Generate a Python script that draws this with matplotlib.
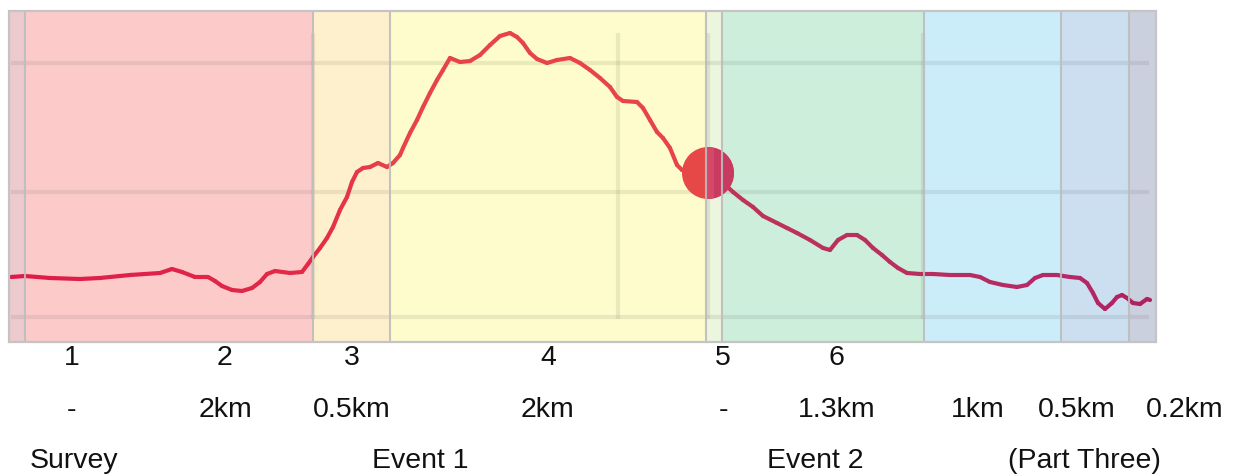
import numpy as np
import matplotlib
matplotlib.use("Agg")
import matplotlib.pyplot as plt
from matplotlib.collections import LineCollection
from matplotlib.patches import Rectangle, Circle
from matplotlib.colors import to_rgb

plt.rcParams['font.family'] = ['Liberation Sans', 'DejaVu Sans']

# ---------------- data ----------------
dist = [2, 16, 41, 71, 91, 121, 151, 163, 173, 186, 199, 206, 213, 223, 233, 243, 251, 258, 266,
        281, 293, 299, 304, 311, 318, 324, 331, 338, 343, 348, 354, 361, 369, 378, 384, 391, 394,
        401, 408, 414, 421, 428, 434, 441, 451, 461, 471, 481, 491, 501, 508, 514, 521, 528, 538,
        548, 561, 571, 581, 591, 601, 608, 614, 628, 634, 641, 648, 654, 661, 668, 673, 686, 699,
        711, 724, 734, 744, 754, 768, 778, 788, 801, 814, 821, 829, 838, 848, 856, 864, 873, 881,
        889, 898, 911, 924, 941, 961, 971, 981, 994, 1008, 1018, 1026, 1034, 1048, 1061, 1071,
        1078, 1084, 1089, 1096, 1103, 1108, 1113, 1118, 1124, 1131, 1138, 1141]
elev = [65, 66, 64, 63, 64, 67, 69, 73, 70, 65, 65, 61, 56, 52, 51, 54, 60, 68, 71,
        69, 70, 78, 85, 94, 104, 115, 132, 145, 160, 170, 174, 175, 179, 175, 179, 187, 194,
        209, 222, 235, 249, 262, 272, 284, 280, 281, 287, 297, 306, 309, 305, 299, 289, 283, 279,
        282, 284, 279, 272, 264, 255, 245, 241, 240, 234, 222, 210, 204, 194, 177, 172, 170, 169,
        162, 150, 142, 135, 126, 119, 114, 109, 102, 94, 92, 102, 107, 107, 102, 94, 87, 80,
        74, 69, 68, 68, 67, 67, 65, 60, 57, 55, 57, 64, 67, 67, 65, 64, 59, 49, 39, 33, 39, 45,
        47, 44, 39, 38, 43, 42]

band_edges = [0, 16, 304, 381, 697, 713, 915, 1052, 1120, 1147]
band_colors = ['#eccacd', '#fdcaca', '#fef0cc', '#fefccc', '#ecf5de',
               '#cdeedb', '#cbedf9', '#cbdff0', '#cad0de']

grid_y = [25, 150, 279]
grid_x = [304, 609, 699, 914]

marker_dist = [699]

seg_numbers = ['1', '2', '3', '4', '5', '6']
seg_lengths = ['-', '2km', '0.5km', '2km', '-', '1.3km', '1km', '0.5km', '0.2km']
section_names = ['Survey', 'Event 1', 'Event 2', '(Part Three)']

# ---------------- layout ----------------
W, H = 1236, 476
fig = plt.figure(figsize=(W / 100, H / 100), dpi=100)
ax_l, ax_t, ax_r, ax_b = 9, 11, 1156, 342
ax = fig.add_axes([ax_l / W, 1 - ax_b / H, (ax_r - ax_l) / W, (ax_b - ax_t) / H])
ax.set_xlim(0, ax_r - ax_l)
ax.set_ylim(0, ax_b - ax_t)
ax.axis('off')

# bands
for i, c in enumerate(band_colors):
    ax.add_patch(Rectangle((band_edges[i], 0), band_edges[i + 1] - band_edges[i], ax_b - ax_t,
                           facecolor=c, edgecolor='none', zorder=0))

# grid
for gy in grid_y:
    ax.plot([2, 1140], [gy, gy], color='#606060', alpha=0.12, lw=3.0, zorder=1,
            solid_capstyle='butt')
for gx in grid_x:
    ax.plot([gx, gx], [23, 309], color='#606060', alpha=0.12, lw=3.0, zorder=1,
            solid_capstyle='butt')

# gradient line
x = np.array(dist, float)
y = np.array(elev, float)
anchor_x = [0, 300, 390, 690, 720, 920, 1060, 1147]
anchor_c = ['#de1a4a', '#e22a46', '#e8434a', '#e8434a', '#bf3358', '#b82e5e', '#b62868', '#b01e5c']
anchor_rgb = np.array([to_rgb(c) for c in anchor_c])
mid = (x[:-1] + x[1:]) / 2
seg_cols = np.column_stack([np.interp(mid, anchor_x, anchor_rgb[:, k]) for k in range(3)])
pts = np.column_stack([x, y]).reshape(-1, 1, 2)
segs = np.concatenate([pts[:-1], pts[1:]], axis=1)
lc = LineCollection(segs, colors=seg_cols, linewidths=3.0, zorder=3, capstyle='round',
                    joinstyle='round')
ax.add_collection(lc)

# marker blob
mx = marker_dist[0]
my = np.interp(mx, x, y)
c1 = Circle((mx, my), 26, facecolor='#e64848', edgecolor='none', zorder=3.5)
ax.add_patch(c1)
c2 = Circle((mx, my), 26, facecolor='#c83a60', edgecolor='none', zorder=3.6)
ax.add_patch(c2)
clip = Rectangle((band_edges[4] + 8, 0), 200, 400, transform=ax.transData)
c2.set_clip_path(clip)
c3 = Circle((mx, my), 26, facecolor='#d4486a', edgecolor='none', zorder=3.7)
ax.add_patch(c3)
clip2 = Rectangle((band_edges[4], 0), 8, 400, transform=ax.transData)
c3.set_clip_path(clip2)

# band boundaries
for e in band_edges[1:-1]:
    ax.plot([e, e], [0, ax_b - ax_t], color='#bdbdbd', lw=1.5, zorder=4, alpha=0.9)
# border
ax.add_patch(Rectangle((0, 0), ax_r - ax_l, ax_b - ax_t, facecolor='none', edgecolor='#c4c4c4',
                       lw=1.6, zorder=5, clip_on=False))

# text rows
num_x = [72, 225, 352, 548, 723, 836]
len_x = [72, 225, 352, 548, 723, 837, 978, 1077, 1185]
sec_x = [74, 420, 815, 1084]
row_y = [358, 410, 461]
fs = 20.5
for t, px in zip(seg_numbers, num_x):
    fig.text(px / W, 1 - row_y[0] / H, t, ha='center', va='center', fontsize=fs, color='#111111')
for t, px in zip(seg_lengths, len_x):
    fig.text(px / W, 1 - row_y[1] / H, t, ha='center', va='center', fontsize=fs, color='#111111')
for t, px in zip(section_names, sec_x):
    fig.text(px / W, 1 - row_y[2] / H, t, ha='center', va='center', fontsize=fs, color='#111111')

fig.savefig('out.png', dpi=100)
